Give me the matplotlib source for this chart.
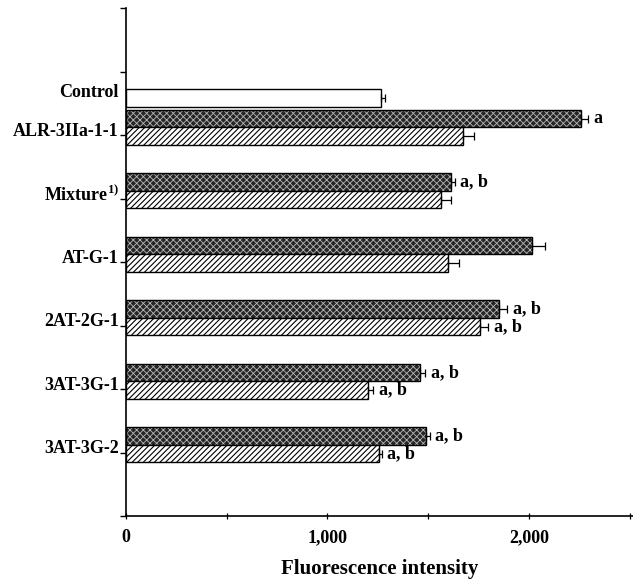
import matplotlib
matplotlib.use("Agg")
import matplotlib.pyplot as plt
import numpy as np

plt.rcParams['font.family'] = ['Liberation Serif', 'DejaVu Serif']
plt.rcParams['font.weight'] = 'bold'
plt.rcParams['mathtext.fontset'] = 'custom'
plt.rcParams['mathtext.rm'] = 'Liberation Serif:bold'
plt.rcParams['mathtext.bf'] = 'Liberation Serif:bold'
plt.rcParams['mathtext.it'] = 'Liberation Serif:bold'
plt.rcParams['hatch.linewidth'] = 0.8

# ---- data ----
control_label = "Control"
control_value = 1268
control_err = 16

categories = ["ALR-3IIa-1-1", r"Mixture$^{\mathbf{1)}}$", "AT-G-1", "2AT-2G-1", "3AT-3G-1", "3AT-3G-2"]
series_dark = [2258, 1611, 2013, 1851, 1459, 1487]
err_dark = [35, 21, 66, 41, 25, 21]
series_hatch = [1670, 1562, 1599, 1757, 1203, 1256]
err_hatch = [55, 50, 55, 41, 25, 13]
marks_dark = ["a", "a, b", "", "a, b", "a, b", "a, b"]
marks_hatch = ["", "", "", "a, b", "a, b", "a, b"]
xtick_values = [0, 1000, 2000]
xtick_labels = ["0", "1,000", "2,000"]
xlabel = "Fluorescence intensity"

fig = plt.figure(figsize=(6.33, 5.85), dpi=100)
ax = fig.add_axes([125.7/633, 1-516/585, 1-125.7/633, (516-8)/585])

n = len(categories)
centers = np.arange(n, 0, -1) + 0.12
h = 0.275
control_y = n + 0.58

# control bar
ax.barh([control_y], [control_value], height=h, color='white', edgecolor='black', linewidth=1.0)
ax.errorbar([control_value], [control_y], xerr=[[0], [control_err]], fmt='none', ecolor='black',
            elinewidth=0.9, capsize=3, capthick=0.9)

y_dark = centers + h/2
y_hatch = centers - h/2
# dark stippled bars: dark face with light fine cross-hatch, then black outline
plt.rcParams['hatch.linewidth'] = 0.6
ax.barh(y_dark, series_dark, height=h, color='#262626', edgecolor='#b8b8b8', hatch='xxxxx', linewidth=0)
ax.barh(y_dark, series_dark, height=h, fill=False, edgecolor='black', linewidth=1.0)
plt.rcParams['hatch.linewidth'] = 0.8
ax.barh(y_hatch, series_hatch, height=h, color='white', edgecolor='black', hatch='//////', linewidth=1.0)
ax.errorbar(series_dark, y_dark, xerr=[np.zeros(n), err_dark], fmt='none', ecolor='black',
            elinewidth=0.9, capsize=3, capthick=0.9)
ax.errorbar(series_hatch, y_hatch, xerr=[np.zeros(n), err_hatch], fmt='none', ecolor='black',
            elinewidth=0.9, capsize=3, capthick=0.9)

for v, e, y, m in zip(series_dark, err_dark, y_dark, marks_dark):
    if m:
        ax.annotate(m, (v + e, y), xytext=(4, 0), textcoords='offset points',
                    va='center', ha='left', fontsize=13, fontweight='bold')
for v, e, y, m in zip(series_hatch, err_hatch, y_hatch, marks_hatch):
    if m:
        ax.annotate(m, (v + e, y), xytext=(4, 0), textcoords='offset points',
                    va='center', ha='left', fontsize=13, fontweight='bold')

ax.set_xlim(0, 2515)
ax.set_ylim(0, 8)

# tick marks at slot boundaries
ax.set_yticks(np.arange(0, 9))
ax.set_yticklabels([])
ax.tick_params(axis='y', which='major', direction='out', length=4, width=1)
# category labels
ax.set_yticks([control_y + 0.12] + list(centers - 0.03), [control_label] + categories, minor=True)
ax.tick_params(axis='y', which='minor', length=0, pad=5, labelsize=13)

ax.set_xticks(np.arange(0, 2501, 500), minor=True)
ax.set_xticks(xtick_values, xtick_labels)
ax.tick_params(axis='x', which='both', direction='inout', length=5, width=0.9, pad=7, labelsize=13)

ax.set_xlabel(xlabel, fontsize=15, fontweight='bold', labelpad=9)

for s in ['top', 'right']:
    ax.spines[s].set_visible(False)
for s in ['left', 'bottom']:
    ax.spines[s].set_linewidth(1.2)

fig.savefig("out.png", dpi=100)
